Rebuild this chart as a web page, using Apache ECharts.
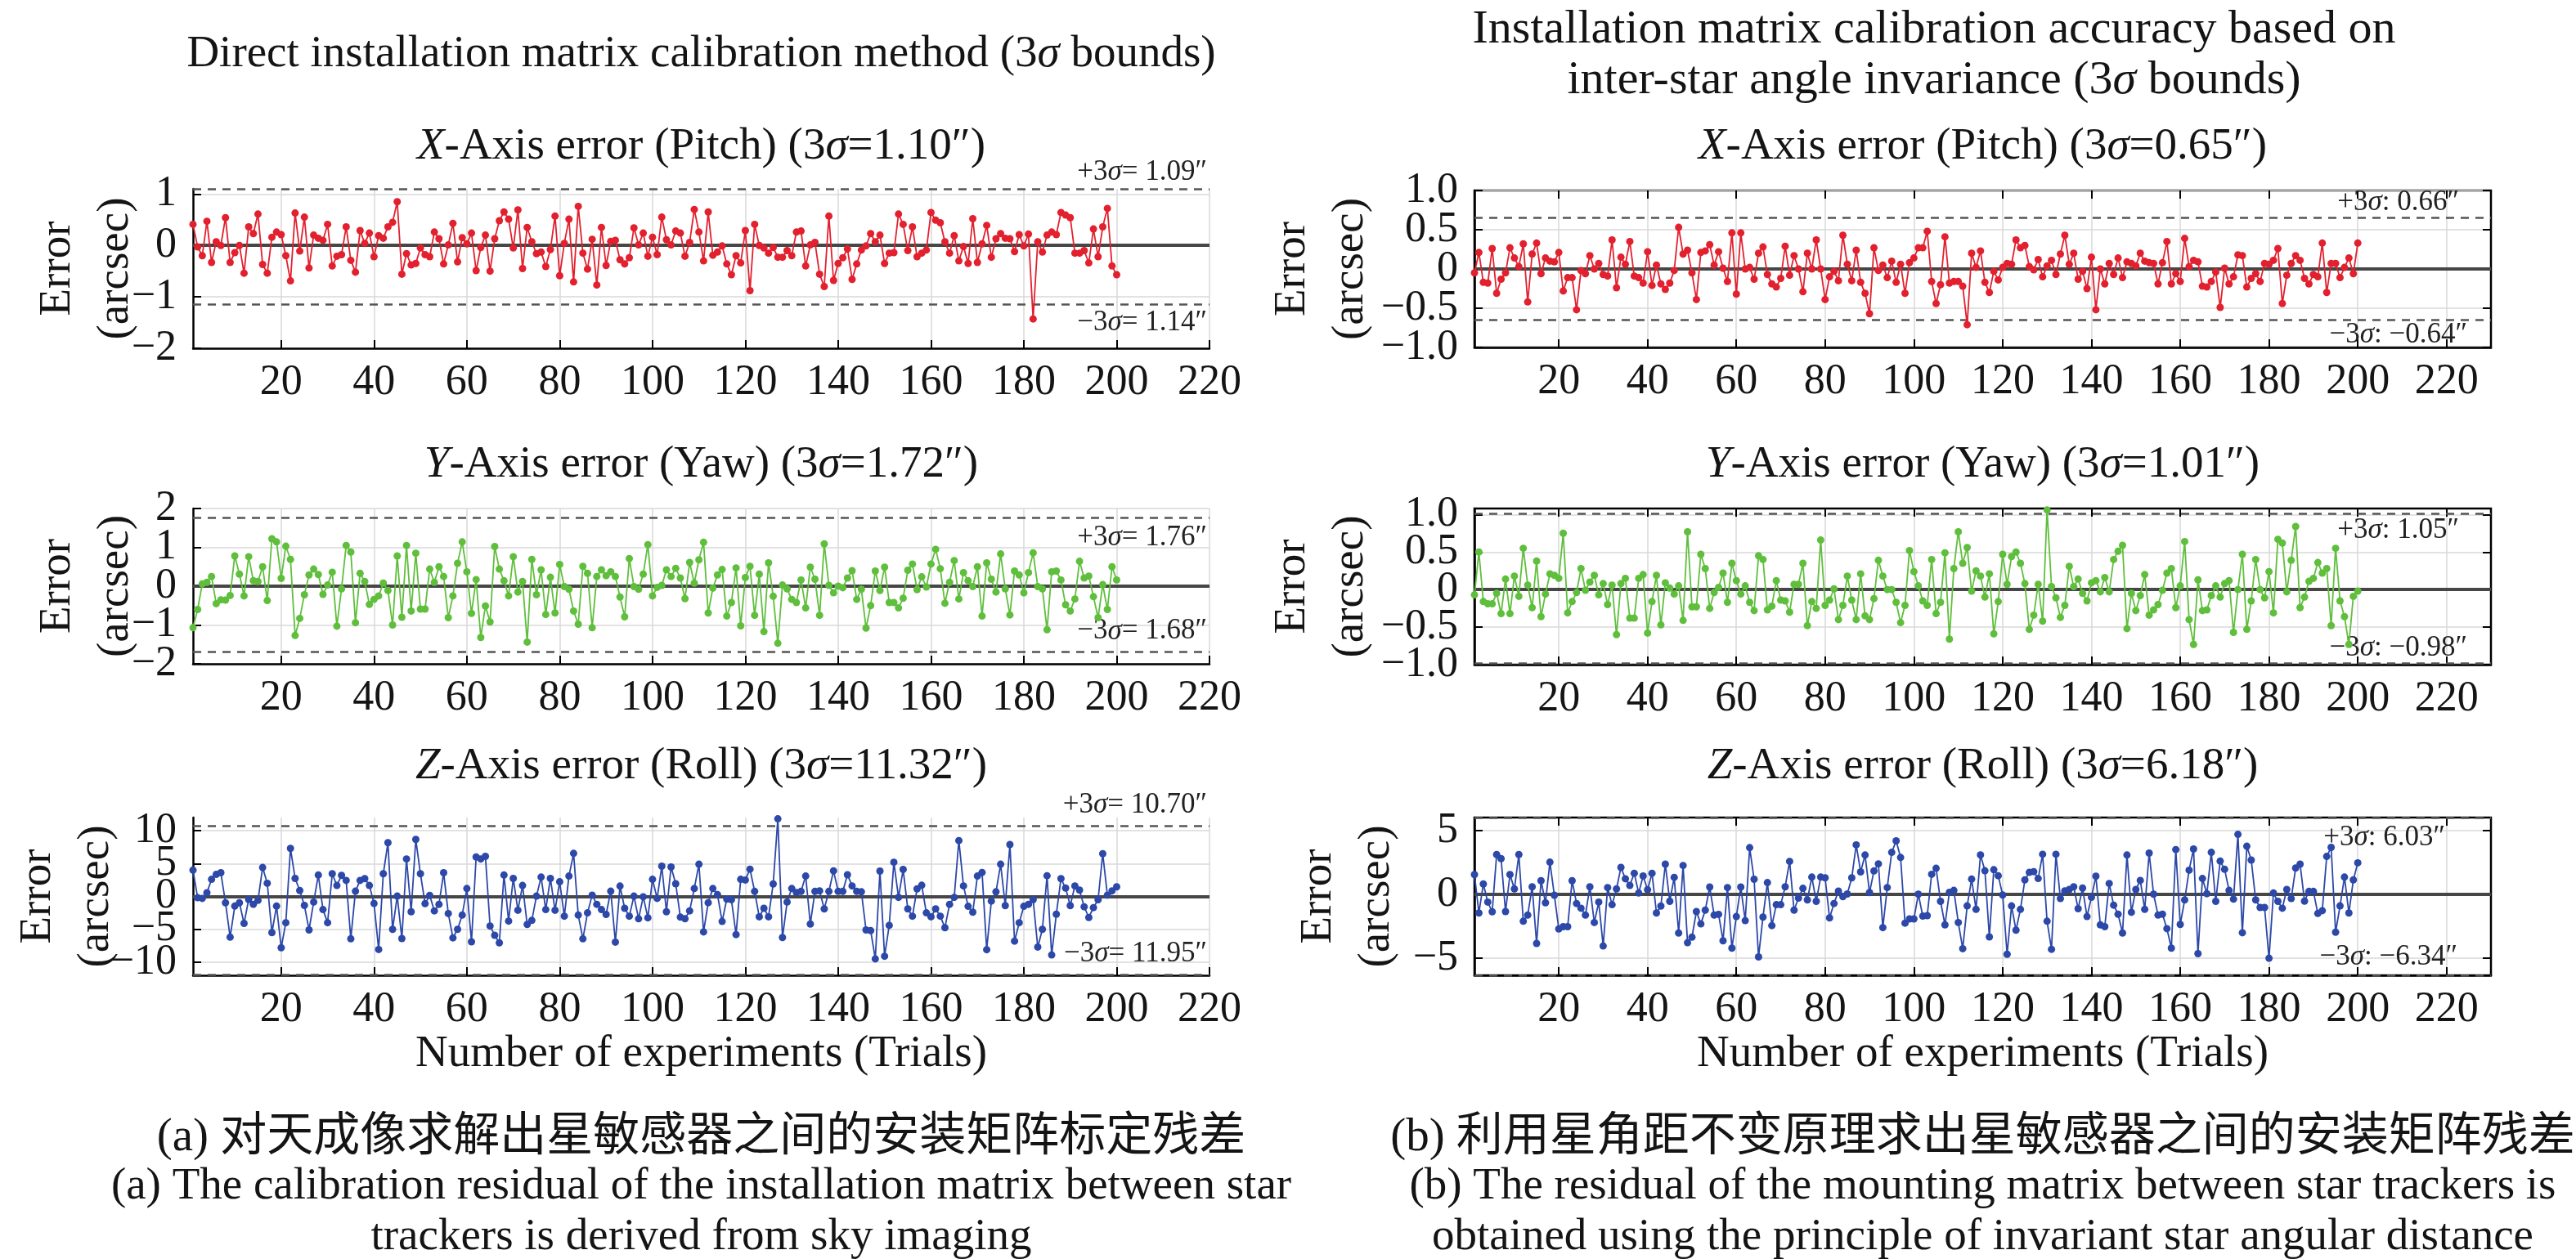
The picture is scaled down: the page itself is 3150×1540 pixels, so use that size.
<!DOCTYPE html>
<html><head><meta charset="utf-8">
<script src="https://cdn.jsdelivr.net/npm/echarts@6/dist/echarts.min.js"></script>
<style>html,body{margin:0;padding:0;background:#fff}#c{width:3150px;height:1540px}</style>
</head><body><div id="c"></div>
<script>
// ---------- tick values / labels ----------
const xTickValues = [20,40,60,80,100,120,140,160,180,200,220];
const yTicksLeftX = [-2,-1,0,1];
const yLabelsLeftX = ['−2','−1','0','1'];
const yTicksLeftY = [-2,-1,0,1,2];
const yLabelsLeftY = ['−2','−1','0','1','2'];
const yTicksLeftZ = [-10,-5,0,5,10];
const yLabelsLeftZ = ['−10','−5','0','5','10'];
const yTicksRightX = [-1,-0.5,0,0.5,1];
const yLabelsRightX = ['−1.0','−0.5','0','0.5','1.0'];
const yTicksRightY = [-1,-0.5,0,0.5,1];
const yLabelsRightY = ['−1.0','−0.5','0','0.5','1.0'];
const yTicksRightZ = [-5,0,5];
const yLabelsRightZ = ['−5','0','5'];

// ---------- series values (trials 1..200) ----------
const leftXErr = [0.41,-0.03,-0.2,0.47,-0.33,0.07,0.0,0.54,-0.33,-0.14,
0,-0.54,0.36,0.23,0.61,-0.37,-0.54,0.16,0.26,0.21,
-0.2,-0.69,0.63,-0.11,0.55,-0.44,0.2,0.14,0.1,0.41,
-0.4,-0.21,-0.18,0.36,-0.29,-0.52,0.29,0.04,0.24,-0.22,
0.19,0.14,0.36,0.45,0.85,-0.56,-0.16,-0.38,-0.35,-0.05,
-0.18,-0.22,0.26,0.13,-0.36,0.01,0.43,-0.32,0.15,0.03,
0.24,-0.49,-0.04,0.2,-0.5,0.13,0.48,0.65,0.51,-0.05,
0.69,-0.45,0.35,0.07,-0.16,-0.13,-0.41,-0.08,0.57,-0.59,
0.04,0.51,-0.71,0.76,-0.15,-0.46,0.12,-0.77,0.35,-0.39,
0.08,0.1,-0.28,-0.36,-0.24,0.34,0.01,0.24,-0.21,0.16,
-0.18,0.55,0.11,0.01,0.28,0.24,-0.21,0.06,0.70,0.26,
-0.30,0.65,-0.19,-0.13,-0.01,-0.36,-0.57,-0.2,-0.34,0.29,
-0.88,0.41,0,-0.05,-0.15,-0.04,-0.23,-0.23,-0.1,-0.2,
0.26,0.28,-0.4,0.01,0.06,-0.56,-0.8,0.57,-0.68,-0.35,
-0.24,-0.07,-0.66,-0.36,-0.09,-0.01,0.23,0.07,0.2,-0.35,
-0.15,-0.14,0.61,0.41,-0.1,0.36,-0.22,-0.15,-0.09,0.64,
0.49,0.44,0.07,-0.15,0.19,-0.3,-0.02,-0.35,0.52,-0.33,
0.03,0.39,-0.23,0.13,0.23,0.14,0.13,-0.12,0.21,-0.01,
0.22,-1.43,0.07,-0.13,0.2,0.26,0.21,0.64,0.59,0.54,
-0.15,-0.15,-0.1,-0.34,0.32,-0.22,0.36,0.72,-0.4,-0.57];

const leftYErr = [-1.07,-0.6,0.06,0.1,0.25,-0.45,-0.35,-0.36,-0.24,0.78,
0.31,-0.25,0.76,0.14,0.12,0.5,-0.37,1.22,1.14,0.2,
1.03,0.69,-1.27,-0.83,-0.22,0.29,0.44,0.3,-0.21,0.03,
0.36,-1.03,-0.07,1.05,0.88,-0.94,0.33,0.12,-0.47,-0.34,
-0.25,0.08,-0.11,-1.0,0.78,-0.8,1.05,-0.64,0.85,-0.59,
-0.59,0.44,0.1,0.5,0.25,-0.81,-0.25,0.59,1.14,0.37,
-0.7,0.17,-1.32,-0.51,-0.92,1.02,0.44,0.14,-0.25,0.76,
-0.15,0.12,-1.44,0.69,-0.22,0.42,-0.73,0.23,-0.69,0.56,
-0.01,-0.08,-0.64,-0.98,0.51,0.33,-1.07,0.25,0.42,0.27,
0.37,0.25,-0.28,-0.79,0.71,-0.01,-0.08,0.31,1.07,-0.25,
-0.03,0.02,0.42,0.25,0.46,0.21,-0.32,0.61,0.08,
0.68,1.13,-0.69,-0.05,0.29,0.43,-0.77,-0.42,0.47,-1.02,
0.22,0.51,-0.75,0.31,-1.17,0.6,-0.26,-1.47,0.03,-0.07,
-0.34,-0.42,0.16,-0.56,0.49,0.18,-0.75,1.09,0.02,-0.17,
0,-0.04,0.21,0.4,-0.34,-0.08,-1.08,-0.5,0.39,-0.11,
0.49,-0.42,-0.42,-0.56,-0.31,0.41,0.57,-0.09,0.24,-0.02,
0.57,0.95,0.45,-0.44,0.1,0.66,-0.33,0.35,0.14,-0.01,
0.5,-0.77,0.6,0.18,-0.15,0.83,-0.07,-0.74,0.39,0.29,
-0.17,0.35,0.86,-0.01,-0.07,-1.12,0.37,0.39,0.16,-0.48,
-0.64,-0.33,0.64,0.21,0.26,-0.27,-0.81,0.04,-0.6,0.5,
0.16];

const leftZErr = [4.0,-0.2,-0.3,0.56,2.6,3.35,3.6,-0.96,-6.2,-1.47,
-0.96,-4.1,-0.46,-1.2,-0.6,4.4,2.0,-5.5,-1.47,-7.8,
-4.0,7.3,2.74,0.9,-1.37,-5.1,-0.86,3.25,-2.0,-4.0,
3.45,1.67,3.2,2.44,-6.45,0.8,2.44,2.7,1.67,-1.07,
-8.07,3.45,8.17,-5.0,0.05,-6.4,5.7,-2.33,8.68,3.45,
-1.1,0.15,-2.2,-1.2,3.6,-2.6,-6.3,-5.0,-2.84,1.2,
-6.9,6.0,5.7,6.1,-4.5,-5.9,-7.05,3.25,-3.75,2.74,
-2.1,1.67,-4.26,-3.65,0.05,2.94,-2.0,2.74,-2.1,2.23,
-3.0,3.1,6.55,-2.84,-6.45,-2.5,0.2,-1.2,-2.0,-2.74,
0.8,-6.95,1.57,-1.8,-3.0,0.05,-3.4,-0.05,-3.25,2.6,
-0.3,4.6,-2.33,4.47,1.93,-3.15,-3.4,-2.2,1.2,4.9,
-5.4,-0.95,1.2,0.27,-3.8,-0.4,-0.5,-5.8,2.6,2.5,
4.15,0.77,-3.1,-1.8,-3.1,1.9,11.8,-6.25,-0.86,1.2,
0.58,0.77,3.1,-4.2,0.77,0.85,-1.9,0.77,3.9,0.77,
0.77,3.3,1.6,0.77,0.7,-5.1,-5.2,-9.5,3.85,-9.1,
-4.4,5.2,-0.14,4.1,-1.9,-3.0,1.15,1.7,-2.5,-3.1,
-1.9,-3.0,-4.75,-1.2,-0.14,8.5,1.6,-1.5,-2.4,3.1,
3.65,-8.1,-0.7,0.7,4.9,-1.4,7.9,-6.8,-4.0,-1.5,
-1.2,-0.5,-7.7,-5.0,3.15,-8.9,-2.7,2.7,1.27,-1.4,
1.6,0.96,-1.57,-3.2,-1.7,-0.5,6.5,0.2,0.85,1.46];

const rightXErr = [-0.05,0.21,-0.17,-0.18,0.26,-0.31,-0.13,-0.05,0.27,0.14,
0.03,0.32,-0.42,0.19,0.33,-0.06,0.14,0.1,0.09,0.21,
-0.28,-0.11,-0.11,-0.52,-0.02,-0.06,0.17,0.0,0.07,-0.07,
-0.09,0.37,-0.24,0.15,0.06,0.35,-0.09,-0.11,-0.18,0.22,
-0.21,0.05,-0.19,-0.26,-0.18,-0.02,0.53,0.19,0.24,-0.05,
-0.39,0.21,0.23,0.31,0.05,0.22,0.01,-0.16,0.46,-0.32,
0.46,0.0,0.02,-0.13,0.2,0.28,-0.07,-0.19,-0.23,-0.12,
0.29,-0.08,0.17,0.0,-0.29,0.2,0.0,0.37,0.0,-0.39,
-0.1,-0.03,-0.15,0.43,0.06,-0.15,0.24,-0.17,-0.31,-0.57,
0.27,-0.02,0.05,-0.11,0.1,-0.17,0.06,-0.31,0.08,0.14,
0.27,0.27,0.48,-0.16,-0.44,-0.2,0.41,-0.18,-0.16,-0.16,
-0.22,-0.71,0.2,0.02,0.23,-0.17,-0.3,-0.03,-0.14,0.02,
0.07,0.06,0.37,0.27,0.3,0.03,-0.01,0.12,-0.1,0.04,
0.11,-0.07,0.19,0.43,0.06,0.2,-0.13,-0.03,-0.25,0.15,
-0.52,0.0,-0.19,0.07,-0.07,0.14,-0.11,0.09,0.07,0.04,
0.2,0.1,0.08,0.07,-0.19,0.08,0.35,-0.19,-0.06,-0.16,
0.39,0.03,0.11,0.09,-0.22,-0.23,-0.16,-0.04,-0.49,0.01,
-0.19,-0.1,0.18,0.17,-0.23,-0.12,-0.06,-0.16,0.07,0.06,
0.11,0.26,-0.44,-0.08,0.07,0.17,0.11,-0.12,-0.19,-0.07,
-0.1,0.33,-0.3,0.07,0.07,-0.11,0.02,0.14,-0.06,0.33];

const rightYErr = [-0.07,0.5,-0.16,-0.19,-0.19,-0.05,-0.32,0.14,-0.32,0.18,
-0.09,0.55,0.06,-0.24,0.38,-0.36,-0.06,0.21,0.19,0.15,
0.75,-0.31,-0.16,-0.04,0.28,-0.01,0.1,0.19,-0.07,0.08,
-0.2,0.06,-0.6,0.08,0.15,-0.38,-0.38,0.15,0.2,-0.58,
-0.16,0.19,-0.47,0.09,0.02,-0.06,0.05,-0.41,0.77,-0.23,
-0.23,0.47,0.28,-0.25,-0.04,0.03,0.22,-0.17,0.35,0.12,
-0.06,0.05,-0.17,-0.28,0.45,0.4,-0.27,-0.22,0.12,-0.14,
-0.15,-0.3,0.07,0.07,0.35,-0.48,-0.16,-0.25,0.66,-0.21,
-0.14,0.01,-0.4,-0.21,0.18,-0.14,-0.4,0.21,-0.35,-0.4,
-0.12,0.39,0.18,0.0,0.0,-0.17,-0.44,-0.21,0.52,0.24,
0.05,-0.15,-0.21,0.4,-0.32,-0.17,0.49,-0.66,0.28,0.77,
0.35,0.56,-0.02,0.25,0.18,-0.1,0.21,-0.59,-0.16,0.47,
0.07,0.44,0.5,0.35,0.08,-0.53,-0.34,0.07,-0.42,1.06,
0.04,-0.11,-0.37,-0.21,0.31,0.04,0.14,-0.05,-0.15,0.09,
0.12,-0.03,0.16,-0.03,0.4,0.51,0.59,-0.52,-0.05,-0.28,
-0.08,0.2,-0.34,-0.27,-0.2,-0.01,0.22,0.28,-0.24,0.05,
0.64,-0.4,-0.73,0.13,-0.28,-0.27,-0.08,0.05,-0.1,0.08,
0.12,-0.57,0.0,0.47,-0.53,-0.15,0.4,0.0,-0.11,0.24,
-0.31,0.67,0.62,-0.03,0.39,0.84,-0.24,-0.1,0.11,0.15,
0.36,0.22,0.28,-0.48,0.55,-0.15,-0.36,-0.73,-0.09,-0.02];

const rightZErr = [1.56,-1.45,0.82,-0.6,-1.36,3.13,2.81,-1.34,1.56,0.43,
3.13,-2.1,-1.62,0.6,-3.84,1.08,-0.65,2.53,-0.06,-2.7,
-2.53,-2.53,1.08,-0.71,-1.08,-1.62,0.6,-2.2,-0.6,-4.04,
0.54,-0.8,0.43,2.12,1.23,0.71,1.66,0.11,1.45,0.37,
1.66,-1.45,-0.91,2.38,-0.54,1.34,-3.02,2.27,-3.78,-3.35,
-1.34,-2.31,-1.23,0.58,-1.62,-1.56,-3.63,0.54,-4.21,-1.73,
0.58,-2.05,3.67,1.19,-4.9,-1.77,0.93,-2.44,-0.8,-0.8,
0.6,2.59,-1.23,-0.28,0.48,-0.43,1.36,-0.54,1.36,1.3,
-1.84,-0.71,0.26,-0.17,0.04,1.3,3.89,1.77,3.09,0.15,
1.84,2.4,-2.6,0.54,3.3,4.2,2.9,-2.25,-1.92,-1.92,
0.02,-1.7,-1.66,1.58,2.05,-0.54,-2.38,0.17,0.32,-2.2,
-4.25,-0.9,1.2,-1.17,3.1,1.86,-3.33,1.94,1.47,-0.04,
-4.69,-0.9,-2.8,-1.17,1.14,1.73,1.79,1.25,3.15,-2.1,
-4.3,3.15,-0.32,0.28,0.39,0.6,-1.12,0.5,-1.73,-0.22,
1.43,-2.38,-2.53,0.86,-0.84,-1.55,-3.02,3.09,-1.4,0.39,
1.1,-1.17,3.24,0.02,-1.62,-1.55,-2.68,-4.21,3.52,-2.35,
-0.43,1.9,3.56,-4.64,1.25,0.06,3.3,-0.54,2.61,1.97,
0.32,-0.37,4.71,-3.0,3.78,2.7,-0.43,-1.02,-1.02,-5.0,
0.11,-0.54,-1.08,0.39,-0.32,2.07,2.38,-0.52,0.24,0.24,
-1.49,-1.27,2.98,3.69,-2.96,-0.9,1.36,-1.45,1.14,2.48];

// ---------- 3-sigma bound lines and their labels ----------
const boundsLeftX = [1.09, -1.14];
const boundTextLeftX = ['+3{i|σ}= 1.09″', '−3{i|σ}= 1.14″'];
const boundsLeftY = [1.76, -1.68];
const boundTextLeftY = ['+3{i|σ}= 1.76″', '−3{i|σ}= 1.68″'];
const boundsLeftZ = [10.70, -11.95];
const boundTextLeftZ = ['+3{i|σ}= 10.70″', '−3{i|σ}= 11.95″'];
const boundsRightX = [0.65, -0.65];
const boundTextRightX = ['+3{i|σ}: 0.66″', '−3{i|σ}: −0.64″'];
const boundsRightY = [1.01, -0.98];
const boundTextRightY = ['+3{i|σ}: 1.05″', '−3{i|σ}: −0.98″'];
const boundsRightZ = [6.03, -6.34];
const boundTextRightZ = ['+3{i|σ}: 6.03″', '−3{i|σ}: −6.34″'];

// ---------- texts ----------
const titlesLeft = ['{i|X}-Axis error (Pitch) (3{i|σ}=1.10″)', '{i|Y}-Axis error (Yaw) (3{i|σ}=1.72″)', '{i|Z}-Axis error (Roll) (3{i|σ}=11.32″)'];
const titlesRight = ['{i|X}-Axis error (Pitch) (3{i|σ}=0.65″)', '{i|Y}-Axis error (Yaw) (3{i|σ}=1.01″)', '{i|Z}-Axis error (Roll) (3{i|σ}=6.18″)'];
const headerLeft = ['Direct installation matrix calibration method (3{i|σ} bounds)'];
const headerRight = ['Installation matrix calibration accuracy based on', 'inter-star angle invariance (3{i|σ} bounds)'];
const captionLeft = ['(a) 对天成像求解出星敏感器之间的安装矩阵标定残差', '(a) The calibration residual of the installation matrix between star', 'trackers is derived from sky imaging'];
const captionRight = ['(b) 利用星角距不变原理求出星敏感器之间的安装矩阵残差', '(b) The residual of the mounting matrix between star trackers is', 'obtained using the principle of invariant star angular distance'];
const xAxisName = 'Number of experiments (Trials)';
const yAxisName = 'Error\n(arcsec)';

// ---------- styling / layout ----------
const FONT = '"Liberation Serif","DejaVu Serif","Noto Sans CJK SC",serif';
const INK = '#141414';
const panels = [
  {grid:[236,231,1243,195], xMax:220, yMin:-2, yMax:1.1, ticks:yTicksLeftX, labels:yLabelsLeftX, data:leftXErr, color:'#e2202e', bounds:boundsLeftX, btext:boundTextLeftX, lpos:[['insideEndTop',[3,3]],['insideEndBottom',[3,5]]], box:false, gap:59},
  {grid:[236,622,1243,190], xMax:220, yMin:-2, yMax:2, ticks:yTicksLeftY, labels:yLabelsLeftY, data:leftYErr, color:'#5fbf3c', bounds:boundsLeftY, btext:boundTextLeftY, lpos:[['insideEndBottom',[3,7]],['insideEndTop',[3,7]]], box:false, gap:59},
  {grid:[236,1000,1243,193], xMax:220, yMin:-12, yMax:12, ticks:yTicksLeftZ, labels:yLabelsLeftZ, data:leftZErr, color:'#2c48a8', bounds:boundsLeftZ, btext:boundTextLeftZ, lpos:[['insideEndTop',[3,8]],['insideEndTop',[3,8]]], box:false, gap:83},
  {grid:[1803,233,1243,192], xMax:230, yMin:-1, yMax:1, ticks:yTicksRightX, labels:yLabelsRightX, data:rightXErr, color:'#e2202e', bounds:boundsRightX, btext:boundTextRightX, lpos:[['insideEndTop',[39,1]],['insideEndBottom',[29,1]]], box:true, gap:116},
  {grid:[1803,622,1243,191], xMax:230, yMin:-1, yMax:1.08, ticks:yTicksRightY, labels:yLabelsRightY, data:rightYErr, color:'#5fbf3c', bounds:boundsRightY, btext:boundTextRightY, lpos:[['insideEndBottom',[39,3]],['insideEndTop',[29,1]]], box:true, gap:116},
  {grid:[1803,1000,1243,193], xMax:230, yMin:-6.34, yMax:6.03, ticks:yTicksRightZ, labels:yLabelsRightZ, data:rightZErr, color:'#2c48a8', bounds:boundsRightZ, btext:boundTextRightZ, lpos:[['insideEndBottom',[56,7]],['insideEndTop',[41,5]]], box:true, gap:84}
];

const grids = [], xAxes = [], yAxes = [], series = [];
const axisLineStyle = {color:'#000', width:2.5};
const tickLineStyle = {color:'#000', width:2};
const splitStyle = {color:'#d9d9d9', width:1.5};
const yLabelBase = {show:true, interval:0, showMinLabel:true, showMaxLabel:true, hideOverlap:false,
  fontSize:52, fontFamily:FONT, color:INK, margin:20};

panels.forEach((p, i) => {
  grids.push({left:p.grid[0], top:p.grid[1], width:p.grid[2], height:p.grid[3], show:p.box, borderColor:'#000', borderWidth:2.5, backgroundColor:'transparent', outerBoundsMode:'none'});
  const fmt = (v) => { const k = p.ticks.findIndex(t => Math.abs(t - v) < 1e-6); return k >= 0 ? p.labels[k] : ''; };
  // labels are split over two coincident axes so that ECharts does not drop close neighbours
  const evenTicks = p.ticks.filter((t, k) => (p.ticks.length - 1 - k) % 2 === 0);
  const oddTicks = p.ticks.filter((t, k) => (p.ticks.length - 1 - k) % 2 === 1);
  const xi = xAxes.length;
  xAxes.push({type:'value', gridIndex:i, min:1, max:p.xMax, position:'bottom',
    axisLine:{show:true, onZero:false, lineStyle:axisLineStyle},
    axisTick:{show:true, inside:true, length:10, customValues:xTickValues, lineStyle:tickLineStyle},
    axisLabel:{show:true, customValues:xTickValues, interval:0, showMinLabel:true, showMaxLabel:true, hideOverlap:false,
      fontSize:52, fontFamily:FONT, color:INK, margin:16},
    splitLine:{show:true, lineStyle:splitStyle}});
  const yi = yAxes.length;
  yAxes.push({type:'value', gridIndex:i, min:p.yMin, max:p.yMax, position:'left',
    axisLine:{show:true, onZero:false, lineStyle:axisLineStyle},
    axisTick:{show:true, inside:true, length:10, customValues:p.ticks, lineStyle:tickLineStyle},
    axisLabel:Object.assign({}, yLabelBase, {customValues:evenTicks, formatter:fmt}),
    splitLine:{show:true, lineStyle:splitStyle},
    name:yAxisName, nameLocation:'middle', nameRotate:90, nameGap:p.gap, nameMoveOverlap:false,
    nameTextStyle:{fontSize:55, lineHeight:71, fontFamily:FONT, color:INK}});
  if (oddTicks.length) {
    yAxes.push({type:'value', gridIndex:i, min:p.yMin, max:p.yMax, position:'left', offset:0,
      axisLine:{show:false, onZero:false}, axisTick:{show:false}, splitLine:{show:false},
      axisLabel:Object.assign({}, yLabelBase, {customValues:oddTicks, formatter:fmt})});
  }
  if (p.box) {
    xAxes.push({type:'value', gridIndex:i, min:1, max:p.xMax, position:'top',
      axisLine:{show:false, onZero:false}, axisTick:{show:true, inside:true, length:10, customValues:xTickValues, lineStyle:tickLineStyle},
      axisLabel:{show:false}, splitLine:{show:false}});
    yAxes.push({type:'value', gridIndex:i, min:p.yMin, max:p.yMax, position:'right',
      axisLine:{show:false, onZero:false}, axisTick:{show:true, inside:true, length:10, customValues:p.ticks, lineStyle:tickLineStyle},
      axisLabel:{show:false}, splitLine:{show:false}});
  }
  const lbl = (k) => ({show:true, position:p.lpos[k][0], distance:p.lpos[k][1],
    formatter:() => p.btext[k], fontSize:35, fontFamily:FONT, color:'#222',
    rich:{i:{fontStyle:'italic', fontSize:35, fontFamily:FONT, color:'#222'}}});
  series.push({type:'line', xAxisIndex:xi, yAxisIndex:yi, z:3,
    data:p.data.map((v, k) => [k + 1, v]),
    symbol:'circle', symbolSize:9, showSymbol:true,
    itemStyle:{color:p.color}, lineStyle:{color:p.color, width:1.8},
    animation:false, silent:true,
    markLine:{silent:true, z:2, symbol:['none','none'], animation:false,
      data:[
        {yAxis:0, lineStyle:{type:'solid', color:'#464646', width:4}, label:{show:false}},
        {yAxis:p.bounds[0], lineStyle:{type:[10,8], color:'#555', width:2.5}, label:lbl(0)},
        {yAxis:p.bounds[1], lineStyle:{type:[10,8], color:'#555', width:2.5}, label:lbl(1)}
      ]}});
});

// ---------- static texts ----------
function txt(x, y, text, size) {
  return {type:'text', x:x, y:y, silent:true, z:10,
    style:{text:text, fontSize:size, fontFamily:FONT, fill:INK, align:'center', verticalAlign:'middle',
      rich:{i:{fontStyle:'italic', fontSize:size, fontFamily:FONT, fill:INK}}}};
}
const CL = 857.5, CR = 2424.5;
const graphics = [];
graphics.push(txt(CL, 67, headerLeft[0], 55));
graphics.push(txt(2365, 37, headerRight[0], 58));
graphics.push(txt(2365, 99, headerRight[1], 58));
const titleY = [180, 569, 938];
titlesLeft.forEach((t, k) => graphics.push(txt(CL, titleY[k], t, 55)));
titlesRight.forEach((t, k) => graphics.push(txt(CR, titleY[k], t, 55)));
graphics.push(txt(CL, 1290, xAxisName, 55));
graphics.push(txt(CR, 1290, xAxisName, 55));
const capY = [1392, 1452, 1514];
const capSize = [57, 55, 55];
captionLeft.forEach((t, k) => graphics.push(txt(CL, capY[k], t, capSize[k])));
captionRight.forEach((t, k) => graphics.push(txt(CR, capY[k], t, capSize[k])));

const chart = echarts.init(document.getElementById('c'), null, {renderer:'canvas'});
chart.setOption({
  backgroundColor:'#ffffff',
  animation:false,
  grid:grids, xAxis:xAxes, yAxis:yAxes, series:series,
  graphic:graphics
});
</script></body></html>
